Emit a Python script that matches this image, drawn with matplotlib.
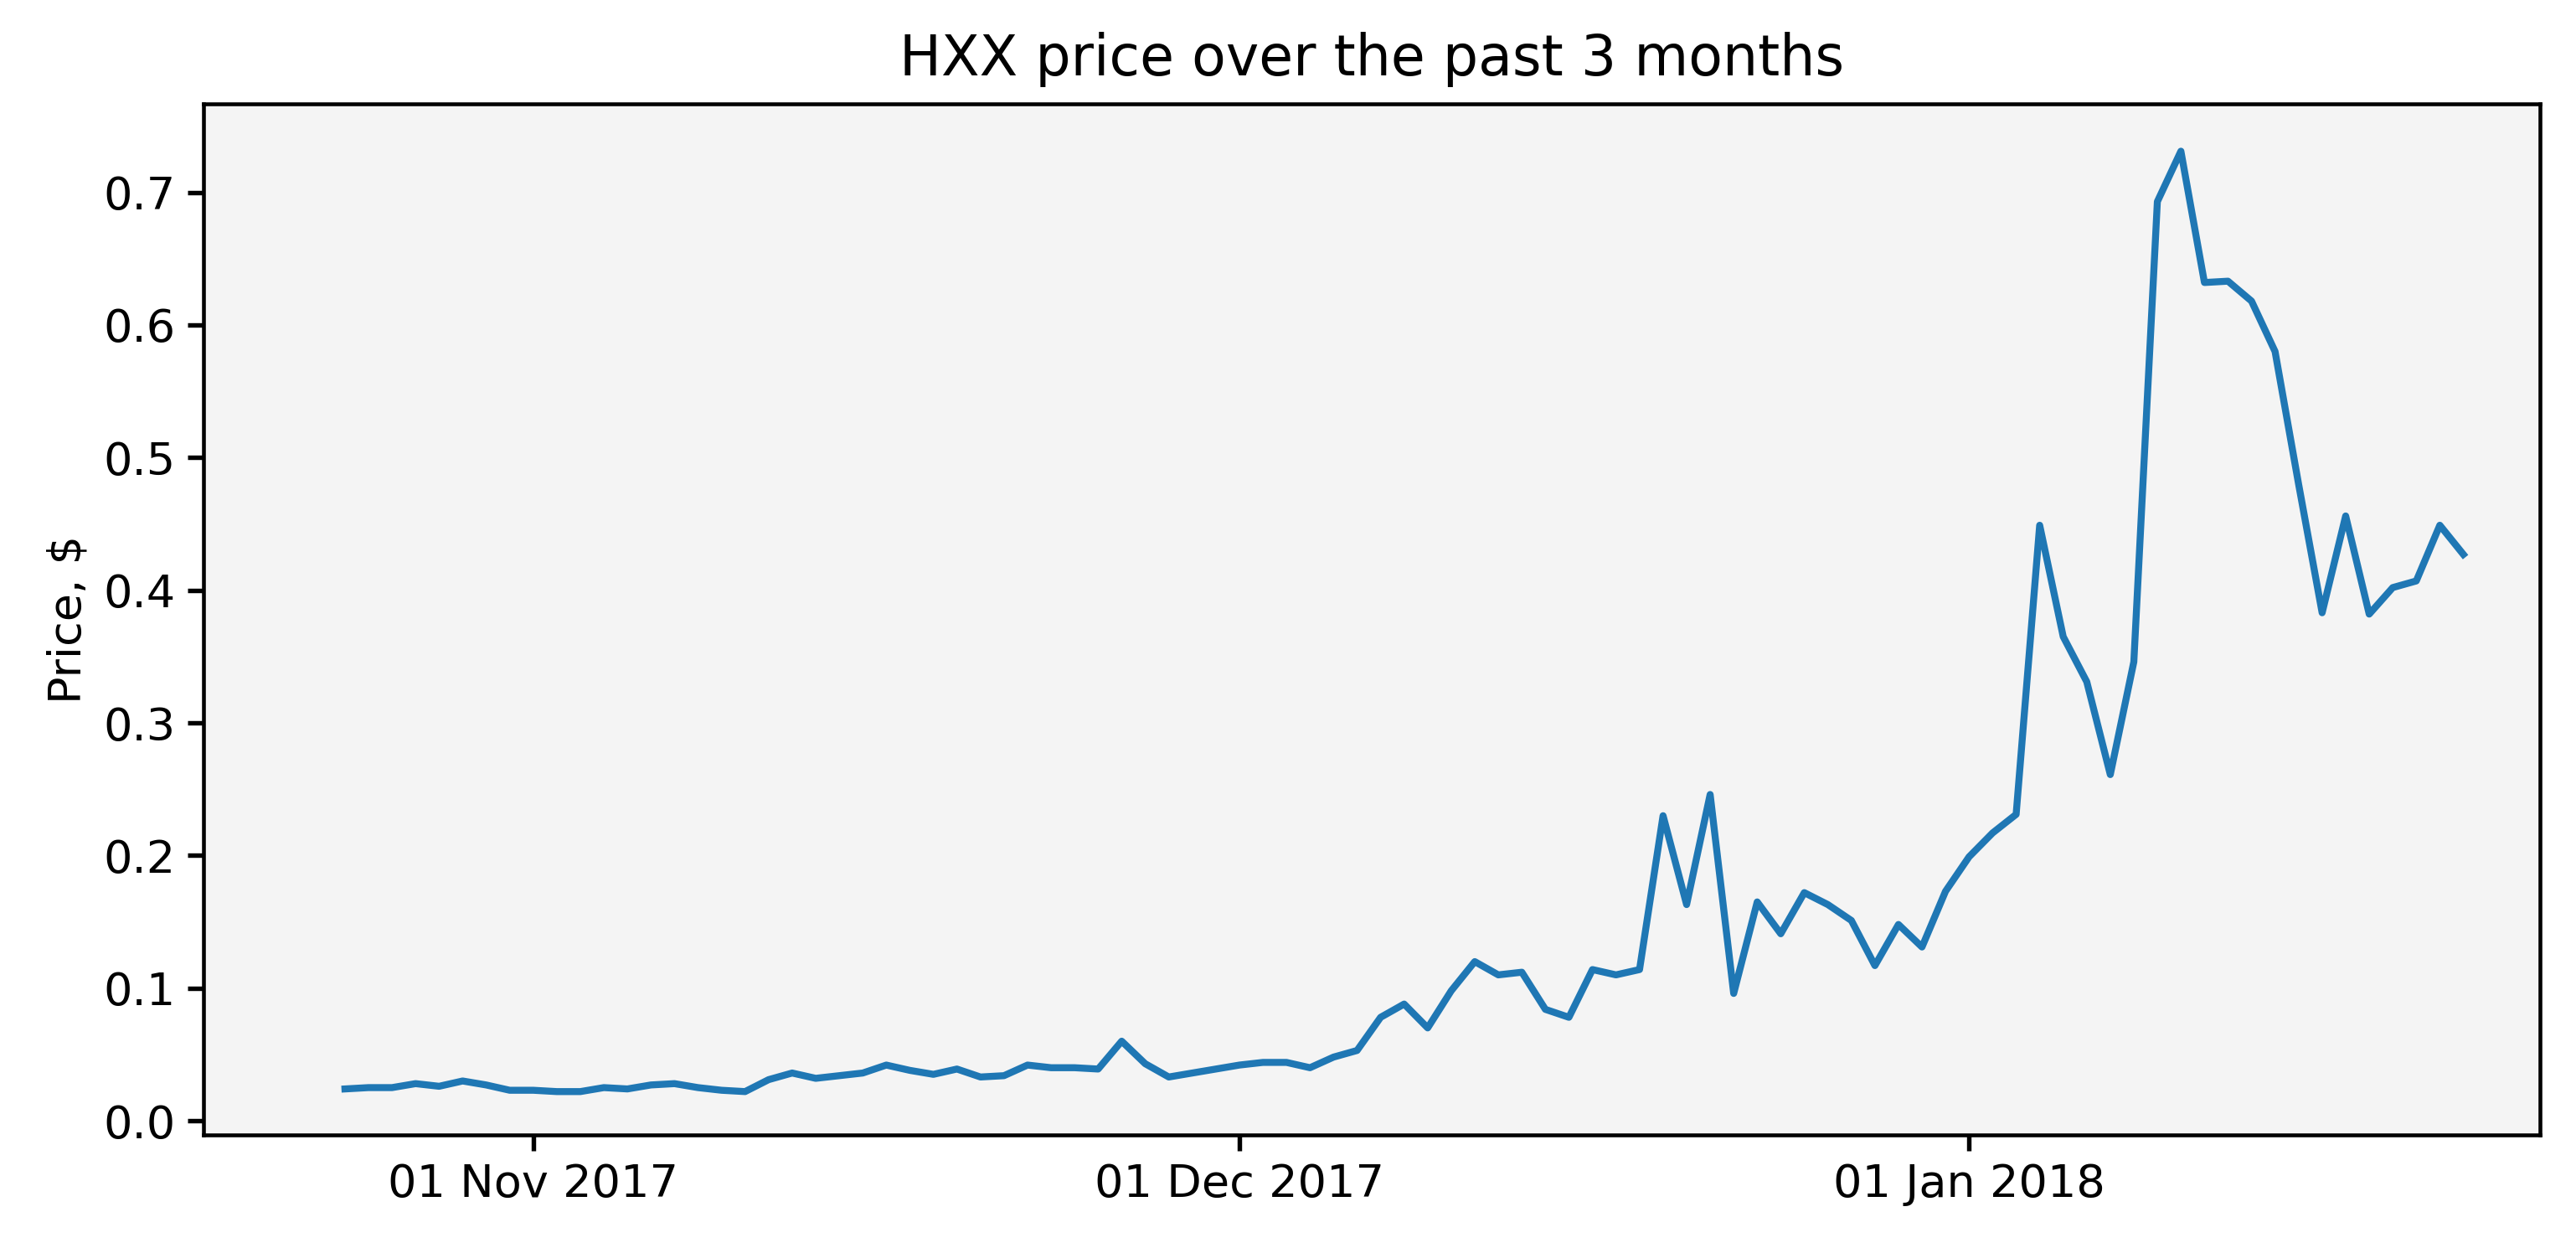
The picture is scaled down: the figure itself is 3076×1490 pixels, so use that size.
import numpy as np
import pandas as pd
import matplotlib
matplotlib.use("Agg")
import matplotlib.pyplot as plt
import matplotlib.dates as mdates

dates = pd.date_range("2017-10-24", "2018-01-22", freq="D")
prices = [
    # Oct 24-31
    0.024, 0.025, 0.025, 0.028, 0.026, 0.030, 0.027, 0.023,
    # Nov
    0.023, 0.022, 0.022, 0.025, 0.024, 0.027, 0.028, 0.025, 0.023, 0.022,
    0.031, 0.036, 0.032, 0.034, 0.036, 0.042, 0.038, 0.035, 0.039, 0.033,
    0.034, 0.042, 0.040, 0.040, 0.039, 0.060, 0.043, 0.033, 0.036, 0.039,
    # Dec
    0.042, 0.044, 0.044, 0.040, 0.048, 0.053, 0.078, 0.088, 0.070, 0.098,
    0.120, 0.110, 0.112, 0.084, 0.078, 0.114, 0.110, 0.114, 0.230, 0.163,
    0.246, 0.096, 0.165, 0.141, 0.172, 0.163, 0.151, 0.117, 0.148, 0.131,
    0.173,
    # Jan
    0.199, 0.217, 0.231, 0.449, 0.365, 0.331, 0.261, 0.346, 0.693, 0.731,
    0.632, 0.633, 0.618, 0.580, 0.480, 0.383, 0.456, 0.382, 0.402, 0.407,
    0.449, 0.427,
]

W, H = 1568, 760  # layout measured on this scale
fig = plt.figure(figsize=(3076 / 300, 1490 / 300), dpi=300)
ax = fig.add_axes([124 / W, 1 - 691 / H, (1546 - 124) / W, (691 - 63) / H])
ax.set_facecolor("#f4f4f4")
ax.plot(dates, prices, color="#1f77b4", linewidth=2.0)

ax.xaxis.set_major_locator(mdates.MonthLocator())
ax.xaxis.set_major_formatter(mdates.DateFormatter("%d %b %Y"))
ax.set_xlim(pd.Timestamp("2017-10-18"), pd.Timestamp("2018-01-25 06:00"))
ax.set_ylim(-0.0105, 0.767)
ax.tick_params(labelsize=13, width=1.3, length=4.5)
for s in ax.spines.values():
    s.set_linewidth(1.1)
ax.set_ylabel("Price, $", fontsize=13)
ax.set_title("HXX price over the past 3 months", fontsize=16, pad=8)

fig.savefig("out.png", dpi=300)
